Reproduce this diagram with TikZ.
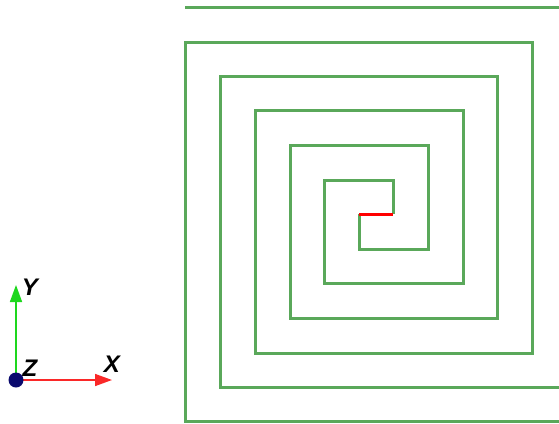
\documentclass[tikz,border=0pt]{standalone}
\usepackage{fontspec}
\setsansfont{Liberation Sans}
\usepackage{tikz}
\usetikzlibrary{arrows.meta,positioning}
\definecolor{coilgreen}{RGB}{90,168,90}
\definecolor{axgreen}{RGB}{30,215,30}
\definecolor{axred}{RGB}{250,40,40}
\definecolor{dotblue}{RGB}{10,10,110}
\tikzset{
  coil/.style={draw=coilgreen,line width=3pt,line join=miter},
  feed/.style={draw=red,line width=3pt},
  axisline/.style={line width=1.6pt,-{Triangle[length=17pt,width=12pt]}},
  axlabel/.style={font=\sffamily\bfseries\itshape\fontsize{24}{24}\selectfont,inner sep=0pt},
  every node/.style={font=\small}
}

\begin{document}
\begin{tikzpicture}[x=1pt,y=-1pt]
  \useasboundingbox (0,0) rectangle (559,423);
  % outer spiral arm
  \draw[coil] (393,214) -- (393,180) -- (324,180) -- (324,283) -- (463,283)
    -- (463,110) -- (255,110) -- (255,353) -- (532,353) -- (532,42)
    -- (185,42) -- (185,421) -- (559,421);
  % inner spiral arm
  \draw[coil] (359,214) -- (359,249) -- (428,249) -- (428,145) -- (290,145)
    -- (290,318) -- (497,318) -- (497,76) -- (220,76) -- (220,387) -- (559,387);
  \draw[coil] (185,7) -- (559,7);
  % feed gap
  \draw[feed] (359,214) -- (393,214);
  % triad
  \coordinate (o) at (16,380);
  \coordinate (ytip) at (16,285);
  \coordinate (xtip) at (112,380);
  \draw[axisline,axgreen] (o) -- (ytip);
  \draw[axisline,axred] (o) -- (xtip);
  \fill[dotblue] (o) circle (7.5);
  \node[axlabel] (ylab) at (30,287) {Y};
  \node[axlabel] (zlab) at (30,368) {Z};
  \node[axlabel] (xlab) at (112,364) {X};
\end{tikzpicture}
\end{document}
